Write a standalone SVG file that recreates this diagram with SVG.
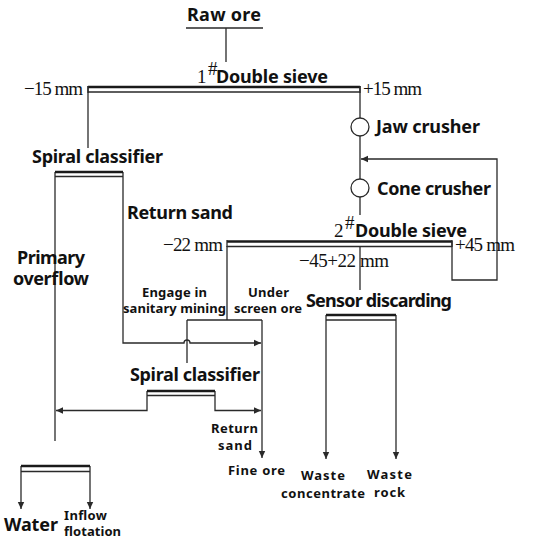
<svg xmlns="http://www.w3.org/2000/svg" width="534" height="539" viewBox="0 0 534 539">
<style>
.ln{fill:none;stroke:#2a2a2a;stroke-width:1.3}
.thick{fill:none;stroke:#1a1a1a;stroke-width:2.6}
.b{font-family:"Noto Sans","DejaVu Sans",sans-serif;font-weight:bold;fill:#111}
.l{font-size:18px}
.s{font-size:13px}
.sr{font-family:"Liberation Serif","Times New Roman",serif;font-size:19px;fill:#111}
</style>
<defs>
<marker id="ah" markerWidth="8" markerHeight="8" refX="7" refY="4" orient="auto" markerUnits="userSpaceOnUse">
<path d="M0,0.8 L7,4 L0,7.2 Z" fill="#2a2a2a"/>
</marker>
</defs>
<rect width="534" height="539" fill="#fff"/>
<g id="connectors">
<path class="ln" d="M186,28 H263 M226,28 V62"/>
<path class="ln" d="M88,86 V148"/>
<path class="ln" d="M360,86 V118 M360,136 V179 M360,197 V215"/>
<path class="ln" d="M452,241 V280 H497 V159 H361" marker-end="url(#ah)"/>
<path class="ln" d="M123,172 V343 H184 A3,3 0 0 1 190,343 H261" marker-end="url(#ah)"/>
<path class="ln" d="M55,172 V441"/>
<path class="ln" d="M227,246 V320 M187,320 H262 M187,320 V363"/>
<path class="ln" d="M262,320 V458" marker-end="url(#ah)"/>
<path class="ln" d="M147,391 V410.5 H56" marker-end="url(#ah)"/>
<path class="ln" d="M215,391 V410.5 H261" marker-end="url(#ah)"/>
<path class="ln" d="M360,246 V290"/>
<path class="ln" d="M326,315 V459" marker-end="url(#ah)"/>
<path class="ln" d="M396,315 V459" marker-end="url(#ah)"/>
<path class="ln" d="M21,466 V509" marker-end="url(#ah)"/>
<path class="ln" d="M90,466 V509" marker-end="url(#ah)"/>
</g>
<g id="raw-ore">
<text class="b l" x="187" y="21" textLength="74">Raw ore</text>
</g>
<g id="sieve1">
<path class="thick" d="M88,87 H360"/>
<path class="ln" d="M88,92 H360 M88,86 V93 M360,86 V93"/>
<text class="sr" x="197" y="83">1</text>
<text class="sr" x="208" y="75" font-size="9">#</text>
<text class="b l" x="216" y="83" textLength="112">Double sieve</text>
<text class="sr" x="24" y="95" textLength="59">−15 mm</text>
<text class="sr" x="363" y="95" textLength="59">+15 mm</text>
</g>
<g id="jaw-crusher">
<circle cx="360" cy="127" r="9" fill="#fff" stroke="#2a2a2a" stroke-width="1.3"/>
<text class="b l" x="376" y="133" textLength="104">Jaw crusher</text>
</g>
<g id="cone-crusher">
<circle cx="360" cy="188" r="9" fill="#fff" stroke="#2a2a2a" stroke-width="1.3"/>
<text class="b l" x="377" y="195" textLength="114">Cone crusher</text>
</g>
<g id="spiral-classifier-1">
<text class="b l" x="32" y="163" textLength="131">Spiral classifier</text>
<path class="thick" d="M55,172 H123"/>
<path class="ln" d="M55,176.5 H123"/>
</g>
<g id="labels-left">
<text class="b l" x="127" y="219" textLength="106">Return sand</text>
<text class="b l" x="17" y="264" textLength="68">Primary</text>
<text class="b l" x="13" y="285" textLength="76">overflow</text>
</g>
<g id="sieve2">
<path class="thick" d="M227,241.5 H452"/>
<path class="ln" d="M227,246.5 H452 M227,240 V247 M452,240 V247"/>
<text class="sr" x="334" y="237">2</text>
<text class="sr" x="345" y="229" font-size="9">#</text>
<text class="b l" x="355" y="237" textLength="112">Double sieve</text>
<text class="sr" x="163" y="251" textLength="60">−22 mm</text>
<text class="sr" x="455" y="251" textLength="60">+45 mm</text>
<text class="sr" x="299" y="267" textLength="90">−45+22 mm</text>
</g>
<g id="branch-labels">
<text class="b s" x="142" y="297" textLength="65">Engage in</text>
<text class="b s" x="123" y="313" textLength="103">sanitary mining</text>
<text class="b s" x="248" y="297" textLength="41">Under</text>
<text class="b s" x="234" y="313" textLength="68">screen ore</text>
</g>
<g id="sensor-discarding">
<text class="b l" x="306" y="307" textLength="146">Sensor discarding</text>
<path class="thick" d="M326,315 H396"/>
<path class="ln" d="M326,320 H396"/>
</g>
<g id="spiral-classifier-2">
<text class="b l" x="130" y="381" textLength="130">Spiral classifier</text>
<path class="thick" d="M147,391 H215"/>
<path class="ln" d="M147,395.5 H215"/>
</g>
<g id="outputs">
<text class="b s" x="211" y="433" textLength="47">Return</text>
<text class="b s" x="218" y="450" textLength="34">sand</text>
<text class="b s" x="228" y="475" textLength="57">Fine ore</text>
<text class="b s" x="301" y="480" textLength="44">Waste</text>
<text class="b s" x="281" y="498" textLength="84">concentrate</text>
<text class="b s" x="367" y="479" textLength="45">Waste</text>
<text class="b s" x="374" y="497" textLength="31">rock</text>
</g>
<g id="water-split">
<path class="thick" d="M21,466 H90"/>
<path class="ln" d="M21,471.5 H90"/>
<text class="b l" x="4" y="531" textLength="54">Water</text>
<text class="b s" x="64" y="520" textLength="43">Inflow</text>
<text class="b s" x="64" y="536" textLength="57">flotation</text>
</g>
</svg>
